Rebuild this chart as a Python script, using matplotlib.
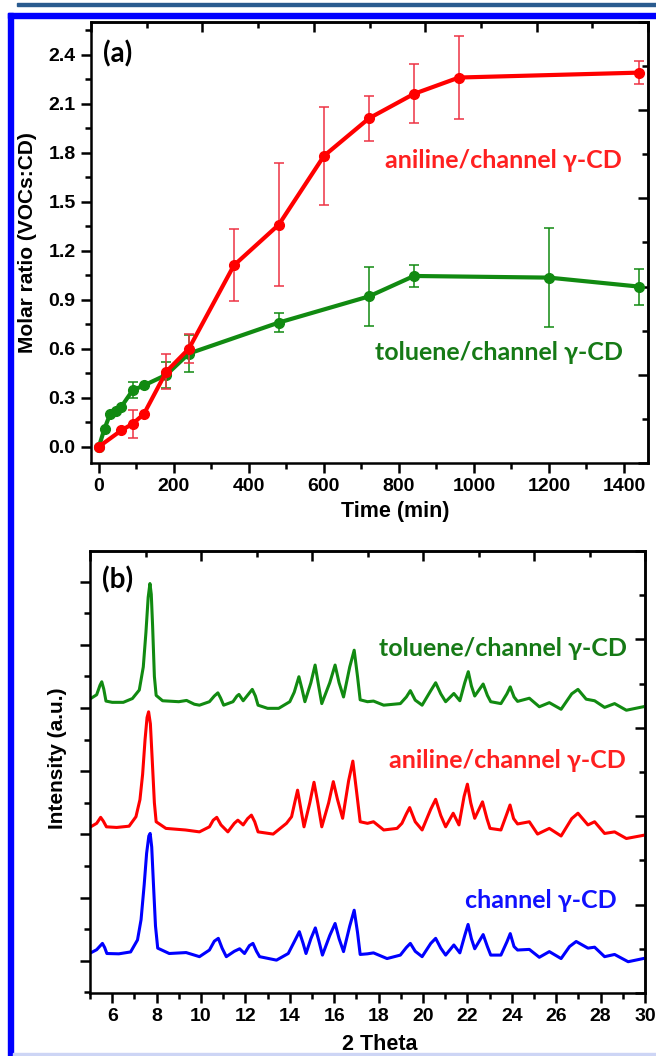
#!/usr/bin/env python3
"""Two-panel figure: VOC uptake by channel gamma-CD and the XRD patterns."""

import matplotlib
matplotlib.use("Agg")
import matplotlib.pyplot as plt
from matplotlib.patches import Rectangle
from matplotlib.ticker import MultipleLocator, NullFormatter

# --- panel (a): molar ratio vs time ---
t_aniline = [0, 60, 90, 120, 180, 240, 360, 480, 600, 720, 840, 960, 1440]
r_aniline = [0.0, 0.10, 0.14, 0.20, 0.46, 0.60, 1.11, 1.36, 1.78, 2.01, 2.16, 2.26, 2.29]
e_aniline = [0, 0, 0.085, 0, 0.11, 0.09, 0.22, 0.375, 0.30, 0.14, 0.18, 0.255, 0.07]

t_toluene = [0, 15, 30, 45, 60, 90, 120, 180, 240, 480, 720, 840, 1200, 1440]
r_toluene = [0.0, 0.11, 0.20, 0.22, 0.245, 0.345, 0.375, 0.44, 0.57, 0.76, 0.92, 1.045, 1.035, 0.98]
e_toluene = [0, 0, 0, 0, 0, 0.05, 0, 0.08, 0.115, 0.06, 0.18, 0.067, 0.305, 0.11]

# --- panel (b): XRD patterns, offset intensities ---
# (2theta, intensity) pairs
xrd_toluene = [
    (5.03, 8.30), (5.3, 8.42), (5.45, 8.72), (5.53, 8.83), (5.62, 8.6), (5.72, 8.22),
    (6.0, 8.18), (6.5, 8.18), (6.91, 8.30), (7.22, 8.57), (7.40, 9.3), (7.52, 10.4),
    (7.62, 11.5), (7.70, 11.94), (7.76, 11.6), (7.82, 10.6), (7.90, 9.0), (7.98, 8.4),
    (8.27, 8.23), (9.0, 8.20), (9.35, 8.24), (9.7, 8.12), (9.93, 8.09), (10.38, 8.20),
    (10.6, 8.38), (10.76, 8.48), (10.88, 8.32), (11.02, 8.09), (11.44, 8.20), (11.62, 8.38),
    (11.71, 8.43), (11.9, 8.23), (12.15, 8.45), (12.31, 8.59), (12.45, 8.38), (12.57, 8.09),
    (13.0, 7.99), (13.5, 7.99), (14.0, 8.20), (14.2, 8.5), (14.41, 8.99), (14.55, 8.6),
    (14.68, 8.20), (14.95, 8.8), (15.14, 9.36), (15.30, 8.7), (15.44, 8.14), (15.8, 8.8),
    (16.04, 9.36), (16.22, 8.8), (16.42, 8.35), (16.7, 9.3), (16.9, 9.83), (17.05, 9.0),
    (17.17, 8.26), (17.5, 8.20), (17.77, 8.22), (18.23, 8.09), (18.98, 8.14), (19.25, 8.35),
    (19.43, 8.55), (19.65, 8.25), (19.96, 8.09), (20.35, 8.55), (20.57, 8.80), (20.8, 8.45),
    (21.02, 8.20), (21.39, 8.46), (21.66, 8.23), (21.88, 8.8), (22.04, 9.15), (22.18, 8.7),
    (22.33, 8.38), (22.71, 8.76), (22.9, 8.4), (23.05, 8.20), (23.51, 8.14), (23.78, 8.45),
    (23.93, 8.67), (24.1, 8.35), (24.26, 8.21), (24.79, 8.31), (25.24, 8.04), (25.69, 8.17),
    (26.22, 7.96), (26.7, 8.45), (26.98, 8.59), (27.35, 8.28), (27.73, 8.23), (28.18, 8.02),
    (28.63, 8.14), (29.16, 7.93), (29.92, 8.04),
]
xrd_aniline = [
    (5.03, 4.24), (5.3, 4.35), (5.48, 4.54), (5.6, 4.42), (5.74, 4.24), (6.2, 4.22),
    (6.76, 4.26), (7.07, 4.56), (7.25, 5.1), (7.37, 5.9), (7.48, 7.0), (7.57, 7.7),
    (7.64, 7.88), (7.72, 7.5), (7.80, 6.4), (7.90, 5.0), (7.98, 4.4), (8.42, 4.19),
    (9.3, 4.14), (9.93, 4.08), (10.38, 4.24), (10.55, 4.45), (10.71, 4.54), (10.9, 4.3),
    (11.21, 4.08), (11.5, 4.35), (11.66, 4.45), (11.9, 4.30), (12.1, 4.5), (12.27, 4.61),
    (12.42, 4.4), (12.57, 4.08), (13.25, 4.01), (13.85, 4.35), (14.08, 4.56), (14.22, 5.0),
    (14.35, 5.40), (14.5, 4.8), (14.64, 4.24), (14.9, 5.0), (15.09, 5.65), (15.26, 5.0),
    (15.44, 4.24), (15.75, 5.0), (15.96, 5.67), (16.15, 5.1), (16.38, 4.51), (16.65, 5.7),
    (16.84, 6.32), (17.0, 5.4), (17.17, 4.40), (17.5, 4.35), (17.77, 4.40), (18.23, 4.14),
    (18.83, 4.19), (19.05, 4.35), (19.25, 4.65), (19.40, 4.85), (19.65, 4.4), (19.96, 4.14),
    (20.35, 4.8), (20.57, 5.11), (20.8, 4.6), (21.02, 4.24), (21.36, 4.67), (21.62, 4.30),
    (21.85, 5.2), (22.0, 5.59), (22.15, 5.0), (22.33, 4.51), (22.68, 5.03), (22.88, 4.5),
    (23.02, 4.19), (23.51, 4.14), (23.75, 4.6), (23.92, 4.93), (24.08, 4.5), (24.26, 4.33),
    (24.79, 4.40), (25.16, 4.01), (25.69, 4.19), (26.22, 3.95), (26.7, 4.5), (26.98, 4.67),
    (27.43, 4.30), (27.73, 4.40), (28.18, 4.03), (28.63, 4.08), (29.16, 3.87), (29.92, 3.97),
]
xrd_channel = [
    (5.03, 0.25), (5.3, 0.35), (5.56, 0.55), (5.66, 0.42), (5.76, 0.23), (6.3, 0.22),
    (6.83, 0.28), (7.14, 0.66), (7.30, 1.3), (7.44, 2.4), (7.55, 3.4), (7.65, 3.95),
    (7.71, 4.03), (7.78, 3.6), (7.86, 2.4), (7.95, 1.1), (8.05, 0.4), (8.57, 0.23),
    (9.33, 0.26), (9.93, 0.13), (10.38, 0.34), (10.6, 0.62), (10.78, 0.71), (10.95, 0.4),
    (11.14, 0.13), (11.5, 0.3), (11.74, 0.38), (11.96, 0.23), (12.18, 0.48), (12.34, 0.55),
    (12.5, 0.3), (12.64, 0.13), (13.40, 0.02), (13.93, 0.23), (14.2, 0.6), (14.43, 0.92),
    (14.6, 0.55), (14.73, 0.23), (14.95, 0.7), (15.15, 1.04), (15.32, 0.6), (15.47, 0.18),
    (15.8, 0.8), (16.04, 1.18), (16.22, 0.7), (16.42, 0.29), (16.7, 1.1), (16.9, 1.60),
    (17.05, 0.9), (17.17, 0.20), (17.5, 0.22), (17.77, 0.25), (18.38, 0.07), (18.98, 0.18),
    (19.25, 0.42), (19.43, 0.55), (19.65, 0.3), (19.96, 0.13), (20.35, 0.55), (20.57, 0.71),
    (20.8, 0.4), (21.02, 0.18), (21.39, 0.50), (21.66, 0.25), (21.88, 0.8), (22.03, 1.15),
    (22.18, 0.7), (22.33, 0.38), (22.71, 0.83), (22.9, 0.45), (23.05, 0.18), (23.51, 0.18),
    (23.78, 0.6), (23.93, 0.86), (24.1, 0.45), (24.26, 0.34), (24.79, 0.36), (25.24, 0.11),
    (25.69, 0.29), (26.22, 0.07), (26.6, 0.45), (26.9, 0.61), (27.43, 0.40), (27.73, 0.43),
    (28.18, 0.13), (28.63, 0.20), (29.24, -0.03), (29.92, 0.07),
]

W, H = 656, 1056
RED = "#ff0000"
GREEN = "#118a11"
BLUE = "#0000ff"
NOTE_FONT = "Lato"

plt.rcParams["font.family"] = ["Liberation Sans", "DejaVu Sans"]
plt.rcParams["font.weight"] = "bold"
plt.rcParams["axes.labelweight"] = "bold"


def px(x, y):
    """Pixel position in the picture to figure fraction."""
    return x / W, 1 - y / H


def frame_axes(ax, xlim, ylim):
    ax.set_xlim(*xlim)
    ax.set_ylim(*ylim)
    for s in ax.spines.values():
        s.set_linewidth(1.8)
    ax.tick_params(which="both", direction="out", width=1.8, top=False, right=False,
                   labelsize=14, pad=4)
    ax.tick_params(which="major", length=7)
    ax.tick_params(which="minor", length=4.5)
    # the mirrored top/right axes run on their own 0..1 scale
    x0, x1 = xlim
    y0, y1 = ylim
    top = ax.secondary_xaxis("top", functions=(lambda v: (v - x0) / (x1 - x0),
                                               lambda f: x0 + f * (x1 - x0)))
    right = ax.secondary_yaxis("right", functions=(lambda v: (v - y0) / (y1 - y0),
                                                   lambda f: y0 + f * (y1 - y0)))
    for sec, axis in ((top, top.xaxis), (right, right.yaxis)):
        axis.set_major_locator(MultipleLocator(0.2))
        axis.set_minor_locator(MultipleLocator(0.1))
        axis.set_major_formatter(NullFormatter())
        sec.tick_params(which="both", direction="in", width=1.8)
        sec.tick_params(which="major", length=7)
        sec.tick_params(which="minor", length=4.5)
        for s in sec.spines.values():
            s.set_linewidth(1.8)


def main():
    fig = plt.figure(figsize=(W / 100, H / 100), dpi=100)

    # page decoration: header rule and the blue frame
    fig.patches.append(Rectangle(px(17, 6), 1, 2.7 / H, transform=fig.transFigure,
                                 color="#2a5b8f", zorder=0))
    fig.patches.append(Rectangle(px(8, 17.5), 1, 4.5 / H, transform=fig.transFigure,
                                 color="#0000ff", zorder=0))
    fig.patches.append(Rectangle(px(8, H), 5 / W, (H - 13) / H, transform=fig.transFigure,
                                 color="#0000ff", zorder=0))
    fig.patches.append(Rectangle(px(13, H), 1, 3 / H, transform=fig.transFigure,
                                 color="#cdd5f5", zorder=0))

    # ---------------- (a) ----------------
    ax = fig.add_axes([91 / W, 1 - 463 / H, 557 / W, 441 / H])
    ax.errorbar(t_toluene, r_toluene, yerr=e_toluene, color=GREEN, lw=3, marker="o",
                ms=7, ecolor=GREEN, elinewidth=1.1, capsize=3.3, capthick=1.1, zorder=3)
    ax.errorbar(t_aniline, r_aniline, yerr=e_aniline, color=RED, lw=3, marker="o",
                ms=7, ecolor="#ee3344", elinewidth=1.1, capsize=3.3, capthick=1.1, zorder=4)
    ax.xaxis.set_major_locator(MultipleLocator(200))
    ax.xaxis.set_minor_locator(MultipleLocator(100))
    ax.yaxis.set_major_locator(MultipleLocator(0.3))
    ax.yaxis.set_minor_locator(MultipleLocator(0.15))
    ax.yaxis.set_major_formatter(plt.FuncFormatter(lambda v, p: f"{v:.1f}"))
    frame_axes(ax, (-21, 1464), (-0.1, 2.6))
    ax.set_xlabel("Time (min)", fontsize=15.5)
    ax.xaxis.set_label_coords((395 - 91) / 557, -(501 - 463) / 441)
    ax.set_ylabel("Molar ratio (VOCs:CD)", fontsize=15)
    ax.yaxis.set_label_coords(-(91 - 37) / 557, 0.5)

    fig.text(*px(103, 54), "(a)", family=NOTE_FONT, weight="bold", size=20,
             va="center", ha="left")
    fig.text(*px(503, 160), "aniline/channel γ-CD", family=NOTE_FONT, weight="bold",
             size=18, color="#ff2020", va="center", ha="center")
    fig.text(*px(499, 353), "toluene/channel γ-CD", family=NOTE_FONT, weight="bold",
             size=18, color="#167a16", va="center", ha="center")

    # ---------------- (b) ----------------
    bx = fig.add_axes([90 / W, 1 - 993 / H, 555 / W, 442 / H])
    for pts, col in ((xrd_toluene, GREEN), (xrd_aniline, RED), (xrd_channel, BLUE)):
        bx.plot([p[0] for p in pts], [p[1] for p in pts], color=col, lw=2.2)
    bx.xaxis.set_major_locator(MultipleLocator(2))
    bx.xaxis.set_minor_locator(MultipleLocator(1))
    bx.yaxis.set_major_locator(MultipleLocator(2))
    bx.yaxis.set_minor_locator(MultipleLocator(1))
    bx.yaxis.set_major_formatter(NullFormatter())
    frame_axes(bx, (5, 30), (-1.02, 12.97))
    bx.set_xlabel("2 Theta", fontsize=15.5)
    bx.xaxis.set_label_coords((380 - 90) / 555, -(1034 - 993) / 442)
    bx.set_ylabel("Intensity (a.u.)", fontsize=15)
    bx.yaxis.set_label_coords(-(90 - 67) / 555, (993 - 758) / 442)

    fig.text(*px(102, 580), "(b)", family=NOTE_FONT, weight="bold", size=20,
             va="center", ha="left")
    fig.text(*px(503, 648), "toluene/channel γ-CD", family=NOTE_FONT, weight="bold",
             size=18, color="#167a16", va="center", ha="center")
    fig.text(*px(507, 760), "aniline/channel γ-CD", family=NOTE_FONT, weight="bold",
             size=18, color="#ff2020", va="center", ha="center")
    fig.text(*px(541, 900), "channel γ-CD", family=NOTE_FONT, weight="bold",
             size=18, color="#1010ff", va="center", ha="center")

    fig.savefig("out.png", dpi=100)


if __name__ == "__main__":
    main()
